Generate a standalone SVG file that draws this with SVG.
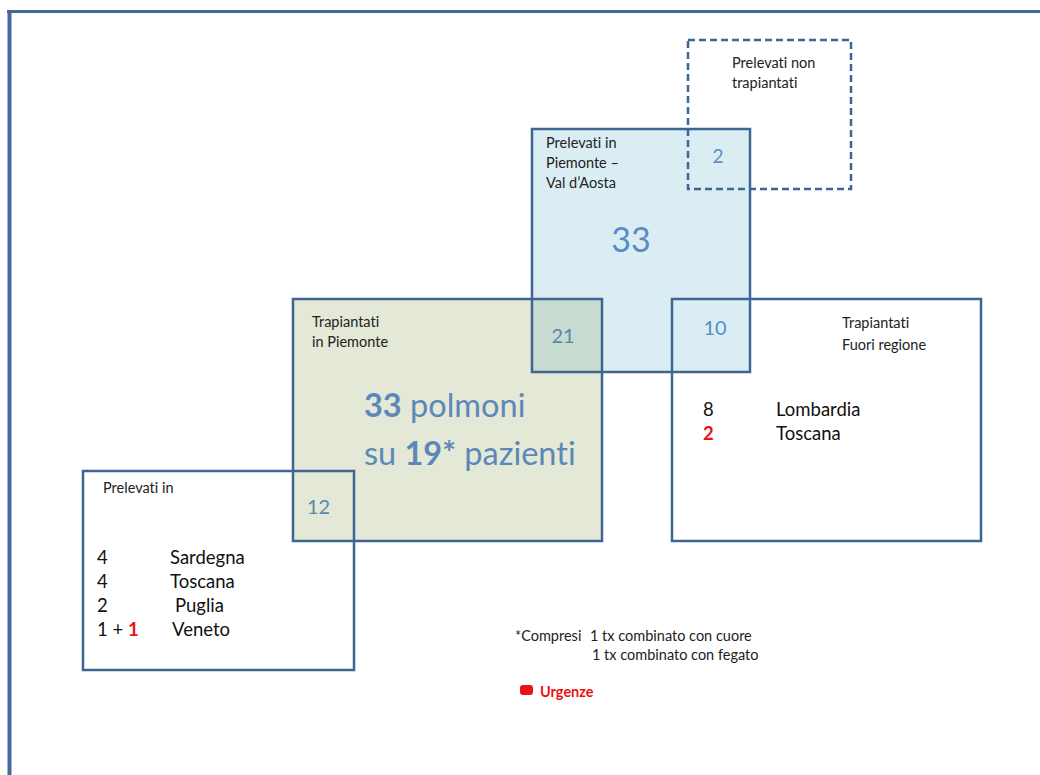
<svg xmlns="http://www.w3.org/2000/svg" width="1040" height="775" viewBox="0 0 1040 775">
  <style>
    text { font-family: Lato, "Open Sans", sans-serif; font-variant-ligatures: none; }
    .box { fill: none; stroke: #3f6592; stroke-width: 2.5; }
    .lbl { font-size: 14.5px; fill: #222; }
    .num { fill: #5b8cc8; }
    .big { font-size: 32.5px; fill: #5b88b8; }
    .row { font-size: 18.5px; fill: #111; }
    .red { fill: #ee1111; font-weight: bold; }
  </style>

  <rect width="1040" height="775" fill="#ffffff"/>
  <!-- page frame -->
  <g id="frame" stroke="#44699a" fill="none">
    <line x1="7" y1="11.5" x2="1040" y2="11.5" stroke-width="3"/>
    <line x1="9.5" y1="10" x2="9.5" y2="775" stroke-width="4"/>
  </g>

  <!-- area fills -->
  <g id="fills">
    <rect x="293" y="299" width="309" height="242" fill="#e4e8d7"/>
    <rect x="532" y="129" width="218" height="243" fill="#daedf3"/>
    <rect x="532" y="299" width="70" height="73" fill="#c7dbd0"/>
  </g>

  <g id="prelevati-non-trapiantati">
    <rect x="688" y="40" width="163" height="149" class="box" stroke-dasharray="7 4"/>
    <text class="lbl" x="732" y="68">Prelevati non</text>
    <text class="lbl" x="732" y="88">trapiantati</text>
    <text class="num" x="718" y="163" font-size="19" text-anchor="middle">2</text>
  </g>

  <g id="prelevati-piemonte">
    <rect x="532" y="129" width="218" height="243" class="box"/>
    <text class="lbl" x="546" y="148">Prelevati in</text>
    <text class="lbl" x="546" y="168">Piemonte –</text>
    <text class="lbl" x="546" y="188">Val d’Aosta</text>
    <text class="num" x="631" y="252" font-size="34" text-anchor="middle">33</text>
  </g>

  <g id="trapiantati-piemonte">
    <rect x="293" y="299" width="309" height="242" class="box"/>
    <text class="lbl" x="312" y="327" font-size="15.5">Trapiantati</text>
    <text class="lbl" x="312" y="347" font-size="15.5">in Piemonte</text>
    <text class="num" x="563" y="343" font-size="20" text-anchor="middle" style="fill:#5b86b2">21</text>
    <text class="big" x="364" y="417"><tspan font-weight="bold">33</tspan> polmoni</text>
    <text class="big" x="364" y="465">su <tspan font-weight="bold">19*</tspan> pazienti</text>
  </g>

  <g id="trapiantati-fuori-regione">
    <rect x="672" y="299" width="309" height="242" class="box"/>
    <text class="num" x="715" y="335" font-size="20" text-anchor="middle">10</text>
    <text class="lbl" x="842" y="328" font-size="16.5">Trapiantati</text>
    <text class="lbl" x="842" y="350" font-size="16.5">Fuori regione</text>
    <text class="row" x="703" y="416">8</text>
    <text class="row" x="776" y="416">Lombardia</text>
    <text class="row red" x="703" y="440">2</text>
    <text class="row" x="776" y="440">Toscana</text>
  </g>

  <g id="prelevati-altre-regioni">
    <rect x="83" y="471" width="271" height="199" class="box"/>
    <text class="lbl" x="103" y="493" font-size="15.5">Prelevati in</text>
    <text class="num" x="307" y="514" font-size="20" style="fill:#5b86b2">12</text>
    <text class="row" x="97" y="564">4</text>
    <text class="row" x="170" y="564">Sardegna</text>
    <text class="row" x="97" y="588">4</text>
    <text class="row" x="170" y="588">Toscana</text>
    <text class="row" x="97" y="612">2</text>
    <text class="row" x="175" y="612">Puglia</text>
    <text class="row" x="97" y="636">1 + <tspan class="red">1</tspan></text>
    <text class="row" x="172" y="636">Veneto</text>
  </g>

  <g id="note">
    <text class="lbl" x="515" y="641" font-size="15">*Compresi</text>
    <text class="lbl" x="590" y="641" font-size="15">1 tx combinato con cuore</text>
    <text class="lbl" x="592" y="660" font-size="15">1 tx combinato con fegato</text>
  </g>

  <g id="legend">
    <rect x="520" y="685" width="13" height="10" rx="3" fill="#ee1111"/>
    <text class="lbl red" x="540" y="697" font-size="15.5">Urgenze</text>
  </g>

  <!-- no connectors in this diagram -->
  <g id="connectors"/>
</svg>
